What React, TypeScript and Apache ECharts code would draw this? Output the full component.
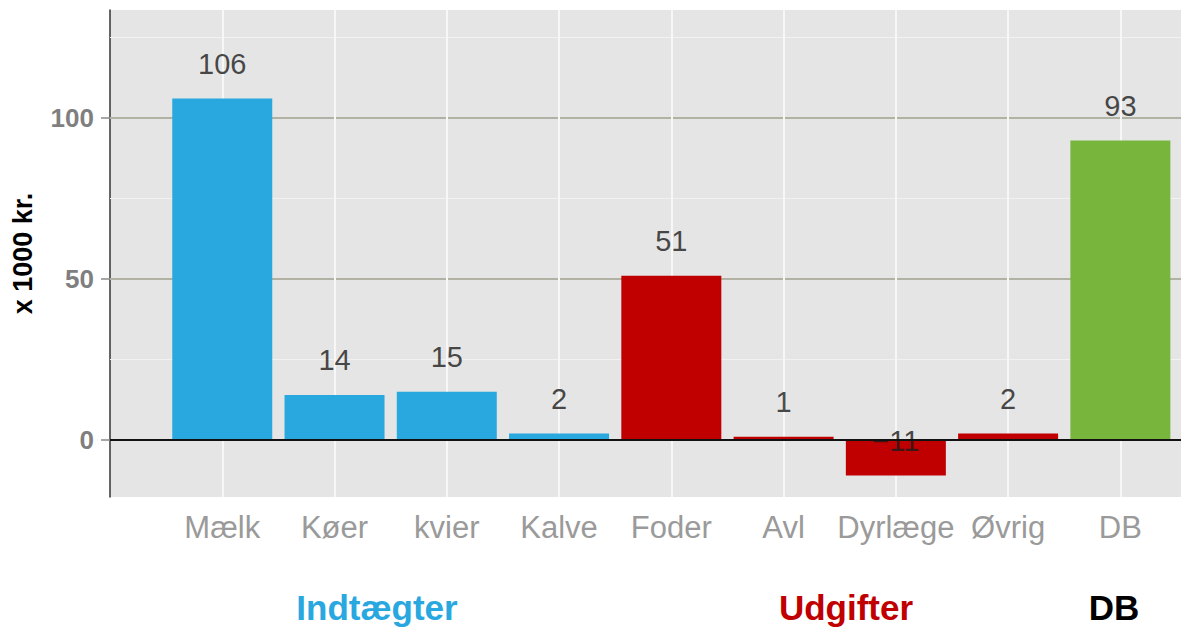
import React, { useEffect, useRef } from "react";
import * as echarts from "echarts";

const categories = ["Mælk", "Køer", "kvier", "Kalve", "Foder", "Avl", "Dyrlæge", "Øvrig", "DB"];
const values = [106, 14, 15, 2, 51, 1, -11, 2, 93];
const groups = ["Indtægter", "Indtægter", "Indtægter", "Indtægter", "Udgifter", "Udgifter", "Udgifter", "Udgifter", "DB"];
const groupNames = ["Indtægter", "Udgifter", "DB"];
const groupColors: Record<string, string> = { Indtægter: "#29a8df", Udgifter: "#c00000", DB: "#77b53d" };
const groupTextColors: Record<string, string> = { Indtægter: "#29a8df", Udgifter: "#c00000", DB: "#000000" };
const groupLabelX = [377, 846, 1114];
const yMajorTicks = [0, 50, 100];
const yMinorTicks = [25, 75, 125];
const yAxisName = "x 1000 kr.";
const LABEL_OFFSET = 10.7;

const FONT = "'Liberation Sans', Arial, Helvetica, sans-serif";

export default function App() {
  const ref = useRef<HTMLDivElement>(null);
  useEffect(() => {
    if (!ref.current) return;
    const chart = echarts.init(ref.current, undefined, { renderer: "svg" });
    const positions = categories.map((_, i) => i + 1);
    const option: any = {
      animation: false,
      backgroundColor: "#ffffff",
      textStyle: { fontFamily: FONT },
      grid: {
        left: 110,
        top: 10,
        right: 0,
        bottom: 130,
        show: true,
        backgroundColor: "#e5e5e5",
        borderWidth: 0,
      },
      xAxis: {
        type: "value",
        min: 0,
        max: 9.54,
        interval: 1,
        axisLine: { show: false },
        axisTick: {
          show: true,
          length: 8,
          customValues: positions,
          lineStyle: { color: "#8a8a8a", width: 1.5 },
        },
        axisLabel: {
          customValues: positions,
          margin: 15,
          color: "#9a9a9a",
          fontSize: 31,
          fontFamily: FONT,
          formatter: (v: number) => {
            const i = Math.round(v) - 1;
            return i >= 0 && i < categories.length ? categories[i] : "";
          },
        },
        splitLine: { show: false },
      },
      yAxis: {
        type: "value",
        min: -17.7,
        max: 133.5,
        name: yAxisName,
        nameLocation: "middle",
        nameRotate: 90,
        nameGap: 74,
        nameTextStyle: { fontSize: 27, fontWeight: "bold", color: "#000", fontFamily: FONT },
        axisLine: { show: true, onZero: false, lineStyle: { color: "#333333", width: 1.5 } },
        axisTick: {
          show: true,
          length: 9,
          customValues: yMajorTicks,
          lineStyle: { color: "#8a8a8a", width: 1.5 },
        },
        axisLabel: {
          customValues: yMajorTicks,
          margin: 16,
          color: "#7f7f7f",
          fontWeight: "bold",
          fontSize: 26,
          fontFamily: FONT,
        },
        splitLine: { show: false },
      },
      series: [
        {
          type: "line",
          data: [],
          z: 1,
          silent: true,
          markLine: {
            z: 1,
            silent: true,
            symbol: "none",
            label: { show: false },
            data: [
              ...yMinorTicks.map((v) => ({ yAxis: v, lineStyle: { color: "#f2f2f2", width: 1.2, type: "solid" } })),
              ...yMajorTicks.map((v) => ({ yAxis: v, lineStyle: { color: "#b2b2a4", width: 2, type: "solid" } })),
              ...positions.map((p) => ({ xAxis: p, lineStyle: { color: "#f7f7f7", width: 2, type: "solid" } })),
            ],
          },
        },
        {
          type: "bar",
          z: 2,
          barWidth: 100,
          data: values.map((v, i) => ({
            value: [positions[i], v],
            itemStyle: { color: groupColors[groups[i]] },
          })),
        },
        {
          type: "scatter",
          z: 3,
          symbolSize: 0,
          silent: true,
          data: values.map((v, i) => [positions[i], v + LABEL_OFFSET]),
          label: {
            show: true,
            position: "inside",
            color: "#1a1a1a",
            fontSize: 29,
            fontFamily: FONT,
            formatter: (p: any) => {
              const v = values[p.dataIndex];
              return v < 0 ? "\u2212" + Math.abs(v) : String(v);
            },
          },
          markLine: {
            z: 4,
            silent: true,
            symbol: "none",
            label: { show: false },
            data: [{ yAxis: 0, lineStyle: { color: "#111111", width: 1.8, type: "solid" } }],
          },
        },
      ],
      graphic: groupNames.map((g, i) => ({
        type: "text",
        x: groupLabelX[i],
        y: 607,
        style: {
          text: g,
          fill: groupTextColors[g],
          font: `bold 35px ${FONT}`,
          textAlign: "center",
          textVerticalAlign: "middle",
        },
      })),
    };
    chart.setOption(option);
    return () => chart.dispose();
  }, []);
  return <div ref={ref} style={{ position: "absolute", left: 0, top: 0, width: 1181, height: 627 }} />;
}
